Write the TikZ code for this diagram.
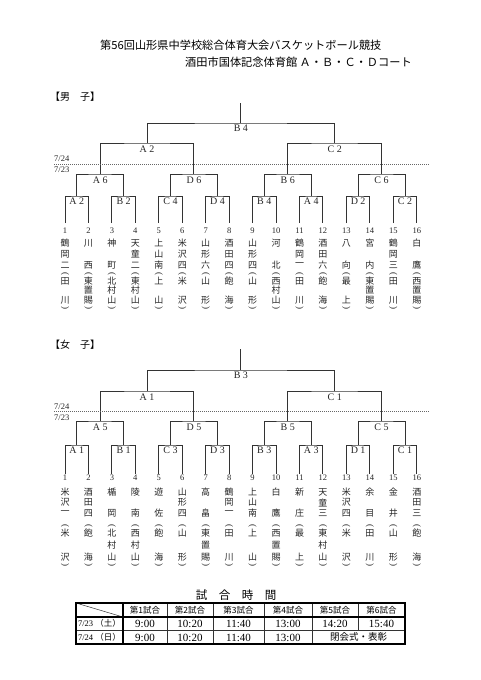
\documentclass[tikz,border=0pt]{standalone}
\usepackage{fontspec}
\setmainfont{Liberation Serif}
\newfontfamily\jp{Noto Sans CJK JP}
\usepackage{graphicx}
\usetikzlibrary{calc}
\tikzset{
  brk/.style={draw=black!80, line width=1pt},
  daysep/.style={draw=black!60, line width=0.6pt, dash pattern=on 1.2pt off 0.8pt},
  mlab/.style={font=\fontsize{10}{10}\selectfont, text=black!85, inner sep=0pt},
  tnum/.style={font=\fontsize{8.5}{8.5}\selectfont, text=black!85, inner sep=0pt},
  tch/.style={font=\jp\fontsize{9}{9}\selectfont, text=black!85, inner sep=0pt},
  tpar/.style={font=\fontsize{9}{9}\selectfont, text=black!85, inner sep=0pt},
  datel/.style={font=\fontsize{8.5}{8.5}\selectfont, text=black!85, inner sep=0pt, anchor=west},
  sect/.style={font=\jp\fontsize{10}{10}\selectfont, inner sep=0pt, anchor=west},
  ttl/.style={font=\jp\fontsize{11.2}{11.2}\selectfont, inner sep=0pt, anchor=west},
  tabout/.style={draw=black, line width=1.3pt},
  tabin/.style={draw=black!80, line width=0.5pt},
  thead/.style={font=\jp\fontsize{8.5}{8.5}\selectfont, inner sep=0pt},
  ttime/.style={font=\fontsize{11}{11}\selectfont, inner sep=0pt},
}
\begin{document}
\begin{tikzpicture}[x=1pt, y=-1pt]
  \useasboundingbox (0,0) rectangle (481,680);
  % title
  \node[ttl] (title1) at (100,45) {第56回山形県中学校総合体育大会バスケットボール競技};
  \node[ttl] (title2) at (185,62) {酒田市国体記念体育館 Ａ・Ｂ・Ｃ・Ｄコート};

  % ---- boys
  \node[sect] (boys) at (50,97) {【男　子】};
  \foreach \n/\ja/\jb/\jc/\ka/\kb/\kc in {1/鶴/岡/二/田/{}/川, 2/川/{}/西/東/置/賜,
      3/神/{}/町/北/村/山, 4/天/童/二/東/村/山, 5/上/山/南/上/{}/山, 6/米/沢/四/米/{}/沢,
      7/山/形/六/山/{}/形, 8/酒/田/四/飽/{}/海, 9/山/形/四/山/{}/形, 10/河/{}/北/西/村/山,
      11/鶴/岡/一/田/{}/川, 12/酒/田/六/飽/{}/海, 13/八/{}/向/最/{}/上, 14/宮/{}/内/東/置/賜,
      15/鶴/岡/三/田/{}/川, 16/白/{}/鷹/西/置/賜}{
    \pgfmathsetmacro\tx{65+(\n-1)*23.45}
    \coordinate (bteam\n) at (\tx,223);
    \node[tnum] (bno\n) at (\tx,231) {\n};
    \node[tch] (bna\n) at (\tx,243) {\ja};
    \node[tch] (bnb\n) at (\tx,254) {\jb};
    \node[tch] (bnc\n) at (\tx,265) {\jc};
    \node[tpar] (bpo\n) at (\tx,273.5) {\rotatebox{-90}{(}};
    \node[tch] (bda\n) at (\tx,281) {\ka};
    \node[tch] (bdb\n) at (\tx,290.5) {\kb};
    \node[tch] (bdc\n) at (\tx,300) {\kc};
    \node[tpar] (bpc\n) at (\tx,307.5) {\rotatebox{-90}{)}};
  }
  % first round
  \foreach \k/\l in {1/A 2, 2/B 2, 3/C 4, 4/D 4, 5/B 4, 6/A 4, 7/D 2, 8/C 2}{
    \pgfmathtruncatemacro\lo{2*\k-1}
    \pgfmathtruncatemacro\hi{2*\k}
    \coordinate (bR1-\k) at ($(bteam\lo)!.5!(bteam\hi)+(0,-27)$);
    \draw[brk] (bteam\lo) |- (bR1-\k) -| (bteam\hi);
    \node[mlab] (bL1-\k) at ($(bR1-\k)+(0,5.5)$) {\l};
  }
  % second round
  \foreach \k/\l in {1/A 6, 2/D 6, 3/B 6, 4/C 6}{
    \pgfmathtruncatemacro\lo{2*\k-1}
    \pgfmathtruncatemacro\hi{2*\k}
    \coordinate (bR2-\k) at ($(bR1-\lo)!.5!(bR1-\hi)+(0,-22)$);
    \draw[brk] (bR1-\lo) |- (bR2-\k) -| (bR1-\hi);
    \node[mlab] (bL2-\k) at ($(bR2-\k)+(0,6)$) {\l};
  }
  % semi final
  \foreach \k/\l in {1/A 2, 2/C 2}{
    \pgfmathtruncatemacro\lo{2*\k-1}
    \pgfmathtruncatemacro\hi{2*\k}
    \coordinate (bR3-\k) at ($(bR2-\lo)!.5!(bR2-\hi)+(0,-31)$);
    \draw[brk] (bR2-\lo) |- (bR3-\k) -| (bR2-\hi);
    \node[mlab] (bL3-\k) at ($(bR3-\k)+(0,6)$) {\l};
  }
  % final
  \coordinate (bF) at ($(bR3-1)!.5!(bR3-2)+(0,-20)$);
  \coordinate (bTop) at ($(bF)+(0,-20)$);
  \draw[brk] (bR3-1) |- (bF) -| (bR3-2);
  \draw[brk] (bF) -- (bTop);
  \node[mlab] (bLF) at ($(bF)+(0,5.5)$) {B 4};
  % day line
  \coordinate (bDayL) at (54,164);
  \coordinate (bDayR) at (429,164);
  \draw[daysep] (bDayL) -- (bDayR);
  \node[datel] (bd24) at (54,159) {7/24};
  \node[datel] (bd23) at (54,170) {7/23};

  % ---- girls
  \node[sect] (girls) at (50,345) {【女　子】};
  \foreach \n/\ja/\jb/\jc/\ka/\kb/\kc in {1/米/沢/一/米/{}/沢, 2/酒/田/四/飽/{}/海,
      3/楯/{}/岡/北/村/山, 4/陵/{}/南/西/村/山, 5/遊/{}/佐/飽/{}/海, 6/山/形/四/山/{}/形,
      7/高/{}/畠/東/置/賜, 8/鶴/岡/一/田/{}/川, 9/上/山/南/上/{}/山, 10/白/{}/鷹/西/置/賜,
      11/新/{}/庄/最/{}/上, 12/天/童/三/東/村/山, 13/米/沢/四/米/{}/沢, 14/余/{}/目/田/{}/川,
      15/金/{}/井/山/{}/形, 16/酒/田/三/飽/{}/海}{
    \pgfmathsetmacro\tx{65+(\n-1)*23.45}
    \coordinate (gteam\n) at (\tx,474);
    \node[tnum] (gno\n) at (\tx,478) {\n};
    \node[tch] (gna\n) at (\tx,492) {\ja};
    \node[tch] (gnb\n) at (\tx,502.5) {\jb};
    \node[tch] (gnc\n) at (\tx,513) {\jc};
    \node[tpar] (gpo\n) at (\tx,526) {\rotatebox{-90}{(}};
    \node[tch] (gda\n) at (\tx,533) {\ka};
    \node[tch] (gdb\n) at (\tx,545) {\kb};
    \node[tch] (gdc\n) at (\tx,557) {\kc};
    \node[tpar] (gpc\n) at (\tx,564.5) {\rotatebox{-90}{)}};
  }
  % first round
  \foreach \k/\l in {1/A 1, 2/B 1, 3/C 3, 4/D 3, 5/B 3, 6/A 3, 7/D 1, 8/C 1}{
    \pgfmathtruncatemacro\lo{2*\k-1}
    \pgfmathtruncatemacro\hi{2*\k}
    \coordinate (gR1-\k) at ($(gteam\lo)!.5!(gteam\hi)+(0,-29)$);
    \draw[brk] (gteam\lo) |- (gR1-\k) -| (gteam\hi);
    \node[mlab] (gL1-\k) at ($(gR1-\k)+(0,5.5)$) {\l};
  }
  % second round
  \foreach \k/\l in {1/A 5, 2/D 5, 3/B 5, 4/C 5}{
    \pgfmathtruncatemacro\lo{2*\k-1}
    \pgfmathtruncatemacro\hi{2*\k}
    \coordinate (gR2-\k) at ($(gR1-\lo)!.5!(gR1-\hi)+(0,-24)$);
    \draw[brk] (gR1-\lo) |- (gR2-\k) -| (gR1-\hi);
    \node[mlab] (gL2-\k) at ($(gR2-\k)+(0,6)$) {\l};
  }
  % semi final
  \foreach \k/\l in {1/A 1, 2/C 1}{
    \pgfmathtruncatemacro\lo{2*\k-1}
    \pgfmathtruncatemacro\hi{2*\k}
    \coordinate (gR3-\k) at ($(gR2-\lo)!.5!(gR2-\hi)+(0,-30)$);
    \draw[brk] (gR2-\lo) |- (gR3-\k) -| (gR2-\hi);
    \node[mlab] (gL3-\k) at ($(gR3-\k)+(0,6)$) {\l};
  }
  % final
  \coordinate (gF) at ($(gR3-1)!.5!(gR3-2)+(0,-21)$);
  \coordinate (gTop) at ($(gF)+(0,-21)$);
  \draw[brk] (gR3-1) |- (gF) -| (gR3-2);
  \draw[brk] (gF) -- (gTop);
  \node[mlab] (gLF) at ($(gF)+(0,5.5)$) {B 3};
  % day line
  \coordinate (gDayL) at (54,411);
  \coordinate (gDayR) at (429,411);
  \draw[daysep] (gDayL) -- (gDayR);
  \node[datel] (gd24) at (54,406.5) {7/24};
  \node[datel] (gd23) at (54,417.5) {7/23};

  % ---- schedule
  \node[font=\jp\fontsize{11.5}{11.5}\selectfont, inner sep=0pt] (sched) at (236,595) {試　合　時　間};
  \draw[tabin] (76,603) -- (123,617);
  \draw[tabin] (76,630) -- (405,630);
  \foreach \x in {167,213,264,312} \draw[tabin] (\x,603) -- (\x,644);
  \draw[tabin] (358,603) -- (358,630);
  \draw[tabout] (76,617) -- (405,617);
  \draw[tabout] (123,603) -- (123,644);
  \draw[tabout] (76,603) rectangle (405,644);
  \foreach \k/\x in {1/145, 2/190, 3/238.5, 4/288, 5/335, 6/381.5}
    \node[thead] (h\k) at (\x,610.5) {第\k 試合};
  \node[thead] (day1) at (99.5,623.5) {\fontspec{Liberation Serif}7/23 \jp（土）};
  \node[thead] (day2) at (99.5,637) {\fontspec{Liberation Serif}7/24 \jp（日）};
  \foreach \k/\x/\t in {1/145/9:00, 2/190/10:20, 3/238.5/11:40, 4/288/13:00, 5/335/14:20, 6/381.5/15:40}
    \node[ttime] (a\k) at (\x,624) {\t};
  \foreach \k/\x/\t in {1/145/9:00, 2/190/10:20, 3/238.5/11:40, 4/288/13:00}
    \node[ttime] (b\k) at (\x,637.5) {\t};
  \node[thead, font=\jp\fontsize{9.5}{9.5}\selectfont] (close) at (358.5,637) {閉会式・表彰};
\end{tikzpicture}
\end{document}
